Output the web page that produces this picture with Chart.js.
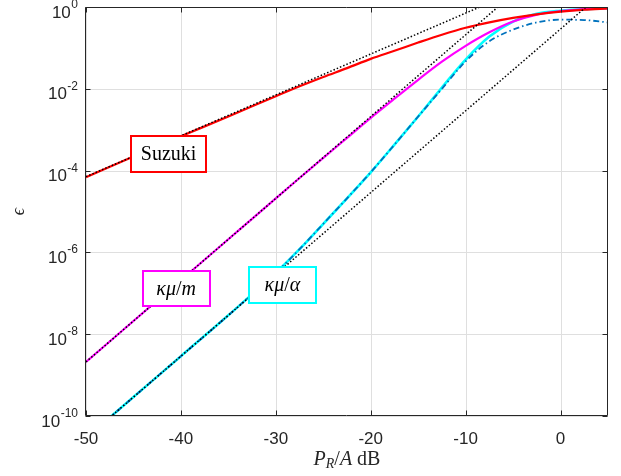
<!DOCTYPE html>
<html lang="en">
<head>
    <meta charset="UTF-8">
    <title>Outage probability vs P_R/A</title>
    <script src="https://cdn.jsdelivr.net/npm/chart.js@4.4.0/dist/chart.umd.min.js"></script>
    <style>
        * {
            margin: 0;
            padding: 0;
            box-sizing: border-box;
        }

        body {
            background: #fff;
            width: 621px;
            height: 476px;
            overflow: hidden;
        }
    </style>
</head>
<body>
    <canvas id="chart" width="621" height="476"></canvas>

    <script>
        // x positions (P_R/A in dB) shared by every curve
        const xVals = [-50, -45, -40, -35, -32.5, -30, -27.5, -25, -22.5, -20, -17.5, -15, -12.5, -10, -7.5, -5, -2.5, 0, 2.5, 5];

        // curves
        const suzuki    = [6.9e-5, 2.2e-4, 6.9e-4, 2.1e-3, 3.75e-3, 6.6e-3, 1.15e-2, 1.95e-2, 3.2e-2, 5.4e-2, 8.5e-2, 0.135, 0.21, 0.31, 0.42, 0.54, 0.66, 0.77, 0.86, 0.92];
        const kmuM      = [2.1e-9, 2.1e-8, 2.1e-7, 2.1e-6, 6.6e-6, 2.1e-5, 6.6e-5, 2.05e-4, 6.3e-4, 1.95e-3, 5.75e-3, 1.66e-2, 4.6e-2, 0.112, 0.24, 0.44, 0.65, 0.79, 0.89, 0.93];
        const kmuAlpha  = [2.9e-11, 2.9e-10, 2.9e-9, 2.9e-8, 9.5e-8, 3.16e-7, 1.2e-6, 5.0e-6, 2.1e-5, 9.1e-5, 4.3e-4, 2.1e-3, 1.07e-2, 5.2e-2, 0.19, 0.44, 0.68, 0.81, 0.89, 0.93];
        const kmuApprox = [2.9e-11, 2.9e-10, 2.9e-9, 2.9e-8, 9.5e-8, 3.16e-7, 1.2e-6, 5.0e-6, 2.1e-5, 9.1e-5, 4.3e-4, 2.1e-3, 1.0e-2, 4.7e-2, 0.145, 0.28, 0.42, 0.49, 0.48, 0.42];

        // straight-line (high SNR) asymptotes, end points only
        const asymX = [-50, 5];
        const asymSuzuki = [7.1e-5, 22.4];
        const asymKmuM = [2.1e-9, 209];
        const asymKmuAlpha = [2.9e-11, 2.9];

        // axis ticks
        const xTicks = [-50, -40, -30, -20, -10, 0];
        const yTickExp = [0, -2, -4, -6, -8, -10];

        const pts = (xs, ys) => xs.map((x, i) => ({ x: x, y: ys[i] }));

        const SERIF = "'Liberation Serif', 'DejaVu Serif', serif";
        const SANS = "'Liberation Sans', Arial, sans-serif";

        // text boxes placed in data coordinates
        const boxes = [
            { x: -41.3, y: 2.6e-4, w: 75, h: 36, color: '#ff0000',
              parts: [['Suzuki', '20px ' + SERIF, 0]] },
            { x: -40.5, y: 1.3e-7, w: 67, h: 35, color: '#ff00ff',
              parts: [['κμ', 'italic 20px ' + SERIF, 0], ['/', '20px ' + SERIF, 0], ['m', 'italic 20px ' + SERIF, 0]] },
            { x: -29.3, y: 1.6e-7, w: 67, h: 36, color: '#00ffff',
              parts: [['κμ', 'italic 20px ' + SERIF, 0], ['/', '20px ' + SERIF, 0], ['α', 'italic 20px ' + SERIF, 0]] }
        ];

        const AXIS = '#262626';
        const GRID = '#dfdfdf';

        function drawParts(ctx, parts, cx, baseline) {
            let total = 0;
            parts.forEach(p => { ctx.font = p[1]; total += ctx.measureText(p[0]).width; });
            let xx = cx - total / 2;
            ctx.textAlign = 'left';
            ctx.textBaseline = 'alphabetic';
            parts.forEach(p => {
                ctx.font = p[1];
                ctx.fillText(p[0], xx, baseline + p[2]);
                xx += ctx.measureText(p[0]).width;
            });
        }

        const decor = {
            id: 'decor',
            beforeDraw(chart) {
                const ctx = chart.ctx;
                ctx.save();
                ctx.fillStyle = '#fff';
                ctx.fillRect(0, 0, chart.width, chart.height);
                ctx.restore();
            },
            beforeDatasetsDraw(chart) {
                const { ctx, chartArea: a, scales: { x, y } } = chart;
                ctx.save();
                ctx.strokeStyle = GRID;
                ctx.lineWidth = 1;
                ctx.beginPath();
                xTicks.forEach(v => {
                    const px = Math.round(x.getPixelForValue(v)) + 0.5;
                    ctx.moveTo(px, a.top);
                    ctx.lineTo(px, a.bottom);
                });
                yTickExp.forEach(e => {
                    const py = Math.round(y.getPixelForValue(Math.pow(10, e))) + 0.5;
                    ctx.moveTo(a.left, py);
                    ctx.lineTo(a.right, py);
                });
                ctx.stroke();
                ctx.restore();
            },
            afterDatasetsDraw(chart) {
                const { ctx, chartArea: a, scales: { x, y } } = chart;
                ctx.save();

                // label boxes
                boxes.forEach(b => {
                    const cx = x.getPixelForValue(b.x);
                    const cy = y.getPixelForValue(b.y);
                    ctx.fillStyle = '#fff';
                    ctx.fillRect(cx - b.w / 2, cy - b.h / 2, b.w, b.h);
                    ctx.strokeStyle = b.color;
                    ctx.lineWidth = 2;
                    ctx.strokeRect(Math.round(cx - b.w / 2), Math.round(cy - b.h / 2), b.w, b.h);
                    ctx.fillStyle = '#000';
                    drawParts(ctx, b.parts, cx, cy + 6);
                });

                // axes box with inward ticks
                const L = a.left - 0.5, R = a.right - 0.5, T = a.top + 0.5, B = a.bottom - 0.5;
                ctx.strokeStyle = AXIS;
                ctx.lineWidth = 1;
                ctx.beginPath();
                ctx.rect(L, T, R - L, B - T);
                xTicks.forEach(v => {
                    const px = Math.round(x.getPixelForValue(v)) + 0.5;
                    ctx.moveTo(px, B); ctx.lineTo(px, B - 5);
                    ctx.moveTo(px, T); ctx.lineTo(px, T + 5);
                });
                yTickExp.forEach(e => {
                    const py = Math.round(y.getPixelForValue(Math.pow(10, e))) + 0.5;
                    ctx.moveTo(L, py); ctx.lineTo(L + 5, py);
                    ctx.moveTo(R, py); ctx.lineTo(R - 5, py);
                });
                ctx.stroke();

                // tick labels
                ctx.fillStyle = AXIS;
                ctx.textBaseline = 'alphabetic';
                ctx.font = '17px ' + SANS;
                ctx.textAlign = 'center';
                xTicks.forEach(v => {
                    ctx.fillText(String(v), x.getPixelForValue(v), 443.5);
                });
                yTickExp.forEach(e => {
                    const py = y.getPixelForValue(Math.pow(10, e));
                    const sup = String(e);
                    ctx.font = '12px ' + SANS;
                    const ws = ctx.measureText(sup).width;
                    ctx.textAlign = 'left';
                    ctx.fillText(sup, 78 - ws, py + 1);
                    ctx.font = '17px ' + SANS;
                    ctx.textAlign = 'right';
                    ctx.fillText('10', 78 - ws - 0.5, py + 10.5);
                });

                // axis titles
                ctx.fillStyle = AXIS;
                const midX = (a.left + a.right) / 2;
                drawParts(ctx, [
                    ['P', 'italic 20px ' + SERIF, 0],
                    ['R', 'italic 14px ' + SERIF, 3],
                    ['/', '20px ' + SERIF, 0],
                    ['A', 'italic 20px ' + SERIF, 0],
                    [' dB', '20px ' + SERIF, 0]
                ], midX, 465);

                ctx.translate(19, (a.top + a.bottom) / 2);
                ctx.rotate(-Math.PI / 2);
                ctx.textAlign = 'center';
                ctx.textBaseline = 'middle';
                ctx.font = 'italic 18px ' + SERIF;
                ctx.fillText('ϵ', 0, 0);

                ctx.restore();
            }
        };

        const line = (data, color, width, dash) => ({
            data: data,
            borderColor: color,
            borderWidth: width,
            borderDash: dash || [],
            pointRadius: 0,
            fill: false,
            cubicInterpolationMode: 'monotone'
        });

        new Chart(document.getElementById('chart').getContext('2d'), {
            type: 'line',
            data: {
                datasets: [
                    line(pts(asymX, asymSuzuki), '#000', 1.5, [1.5, 2]),
                    line(pts(asymX, asymKmuM), '#000', 1.5, [1.5, 2]),
                    line(pts(asymX, asymKmuAlpha), '#000', 1.5, [1.5, 2]),
                    line(pts(xVals, kmuApprox), '#0072bd', 1.8, [6, 3, 1.5, 3]),
                    line(pts(xVals, suzuki), '#ff0000', 2.2),
                    line(pts(xVals, kmuM), '#ff00ff', 2.2),
                    line(pts(xVals, kmuAlpha), '#00ffff', 2.6)
                ]
            },
            options: {
                responsive: false,
                animation: false,
                devicePixelRatio: 1,
                layout: { padding: { top: 7, right: 13, left: 0, bottom: 0 } },
                plugins: {
                    legend: { display: false },
                    tooltip: { enabled: false }
                },
                scales: {
                    x: {
                        type: 'linear',
                        min: -50,
                        max: 5,
                        grid: { display: false },
                        border: { display: false },
                        ticks: { display: false },
                        afterBuildTicks: s => { s.ticks = xTicks.map(v => ({ value: v })); },
                        afterFit: s => { s.height = 60; }
                    },
                    y: {
                        type: 'logarithmic',
                        min: 1e-10,
                        max: 1,
                        grid: { display: false },
                        border: { display: false },
                        ticks: { display: false },
                        afterBuildTicks: s => { s.ticks = yTickExp.map(e => ({ value: Math.pow(10, e) })); },
                        afterFit: s => { s.width = 86; }
                    }
                }
            },
            plugins: [decor]
        });
    </script>
</body>
</html>
